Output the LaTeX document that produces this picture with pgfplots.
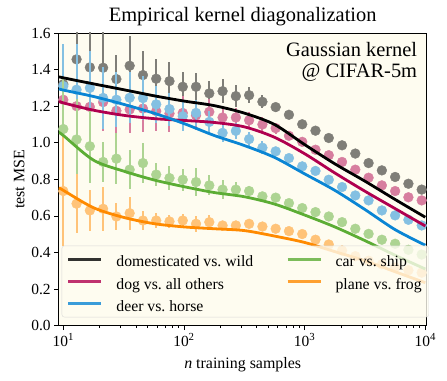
\documentclass[border=0pt]{standalone}
\usepackage{fontspec}
\setmainfont{Liberation Serif}
\usepackage{pgfplots}
\pgfplotsset{compat=1.18}

\definecolor{bgcream}{HTML}{FEFCF0}
\definecolor{cdog}{HTML}{B0004F}
\definecolor{cdeer}{HTML}{0A85D4}
\definecolor{ccar}{HTML}{5CAD35}
\definecolor{cplane}{HTML}{FF8A00}

\pgfplotsset{
  obs/.style={only marks, mark=*, mark size=4.9bp, color=#1!50!bgcream, forget plot,
    error bars/.cd, y dir=both, y explicit, error mark=none,
    error bar style={line width=2bp, color=#1!50!bgcream}},
  theory/.style={color=#1, line width=2.8bp, smooth, forget plot},
}
% keeps every legend row the same height
\newcommand{\lstrut}{\rule[-8.4bp]{0pt}{25bp}}

\begin{document}
\begin{tikzpicture}
\begin{axis}[
  at={(0,0)}, anchor=south west,
  scale only axis, width=368bp, height=292.7bp,
  clip mode=individual,
  xmode=log, xmin=9.16, xmax=10270, ymin=0, ymax=1.6,
  axis background/.style={fill=bgcream},
  axis line style={line width=0.9bp},
  xtick={10,100,1000,10000},
  xticklabels={10\textsuperscript{1},10\textsuperscript{2},10\textsuperscript{3},10\textsuperscript{4}},
  minor xtick={20,30,40,50,60,70,80,90,200,300,400,500,600,700,800,900,2000,3000,4000,5000,6000,7000,8000,9000},
  ytick={0,0.2,0.4,0.6,0.8,1.0,1.2,1.4,1.6},
  yticklabel style={/pgf/number format/.cd, fixed, fixed zerofill, precision=1, assume math mode=true},
  tick label style={font=\fontsize{15.5}{18}\selectfont},
  tick align=outside, xtick pos=left, ytick pos=left,
  major tick length=4.5bp, minor tick length=2.5bp,
  tick style={line width=0.8bp, black},
  xlabel={\textit{n} training samples},
  ylabel={test MSE},
  label style={font=\fontsize{16}{19}\selectfont},
  xlabel style={yshift=-4bp},
  legend columns=2,
  legend cell align=left,
  legend image code/.code={\draw[#1] (0bp,0bp) -- (33bp,0bp);},
  legend style={
    at={(0.0082,0.0287)}, anchor=south west,
    fill=bgcream, fill opacity=0.8, draw opacity=0.8, text opacity=1,
    draw=black!18, rounded corners=2.5bp,
    font=\fontsize{15.8}{18}\selectfont,
    inner xsep=5bp, inner ysep=2.5bp,
    /tikz/every odd column/.append style={column sep=11.7bp},
    /tikz/every even column/.append style={column sep=30.9bp},
  },
]

% measured points: domesticated vs. wild
\addplot[obs=black] coordinates {
  (10,1.32) +- (0,0.2) (12.88,1.456) +- (0,0.25) (16.60,1.412) +- (0,0.3)
  (21.38,1.410) +- (0,0.25) (27.54,1.348) +- (0,0.13) (35.48,1.421) +- (0,0.16)
  (45.71,1.370) +- (0,0.13) (58.88,1.350) +- (0,0.11) (75.86,1.337) +- (0,0.105)
  (97.72,1.306) +- (0,0.08) (125.9,1.306) +- (0,0.077) (162.2,1.270) +- (0,0.07)
  (208.9,1.282) +- (0,0.065) (269.2,1.255) +- (0,0.06) (346.7,1.260) +- (0,0.045)
  (446.7,1.224) +- (0,0.035) (575.4,1.195) +- (0,0.025) (741.3,1.153) +- (0,0.02)
  (955.0,1.101) +- (0,0.012) (1230,1.066) +- (0,0.01) (1585,1.026) +- (0,0)
  (2042,0.986) +- (0,0) (2630,0.941) +- (0,0) (3388,0.889) +- (0,0)
  (4365,0.849) +- (0,0) (5623,0.813) +- (0,0) (7244,0.776) +- (0,0) (9333,0.744) +- (0,0)
};
% dog vs. all others
\addplot[obs=cdog] coordinates {
  (10,1.235) +- (0,0.2) (12.88,1.200) +- (0,0.2) (16.60,1.196) +- (0,0.18)
  (21.38,1.222) +- (0,0.16) (27.54,1.175) +- (0,0.14) (35.48,1.182) +- (0,0.13)
  (45.71,1.187) +- (0,0.13) (58.88,1.173) +- (0,0.11) (75.86,1.160) +- (0,0.1)
  (97.72,1.163) +- (0,0.09) (125.9,1.150) +- (0,0.08) (162.2,1.169) +- (0,0.07)
  (208.9,1.138) +- (0,0.06) (269.2,1.138) +- (0,0.05) (346.7,1.123) +- (0,0.045)
  (446.7,1.100) +- (0,0.04) (575.4,1.080) +- (0,0.03) (741.3,1.038) +- (0,0.02)
  (955.0,1.005) +- (0,0.015) (1230,0.962) +- (0,0) (1585,0.932) +- (0,0)
  (2042,0.895) +- (0,0) (2630,0.853) +- (0,0) (3388,0.809) +- (0,0)
  (4365,0.767) +- (0,0) (5623,0.736) +- (0,0) (7244,0.702) +- (0,0) (9333,0.685) +- (0,0)
};
% deer vs. horse
\addplot[obs=cdeer] coordinates {
  (10,1.31) +- (0,0.23) (12.88,1.29) +- (0,0.25) (16.60,1.30) +- (0,0.2)
  (21.38,1.245) +- (0,0.17) (27.54,1.235) +- (0,0.15) (35.48,1.246) +- (0,0.14)
  (45.71,1.244) +- (0,0.12) (58.88,1.210) +- (0,0.1) (75.86,1.184) +- (0,0.09)
  (97.72,1.145) +- (0,0.08) (125.9,1.163) +- (0,0.07) (162.2,1.114) +- (0,0.06)
  (208.9,1.054) +- (0,0.05) (269.2,1.065) +- (0,0.045) (346.7,1.020) +- (0,0.04)
  (446.7,0.973) +- (0,0.035) (575.4,0.953) +- (0,0.02) (741.3,0.916) +- (0,0.015)
  (955.0,0.871) +- (0,0.01) (1230,0.846) +- (0,0) (1585,0.798) +- (0,0)
  (2042,0.758) +- (0,0) (2630,0.712) +- (0,0) (3388,0.685) +- (0,0)
  (4365,0.630) +- (0,0) (5623,0.603) +- (0,0) (7244,0.579) +- (0,0) (9333,0.548) +- (0,0)
};
% car vs. ship
\addplot[obs=ccar] coordinates {
  (10,1.075) +- (0,0.28) (12.88,1.018) +- (0,0.22) (16.60,0.981) +- (0,0.2)
  (21.38,0.895) +- (0,0.11) (27.54,0.913) +- (0,0.14) (35.48,0.853) +- (0,0.105)
  (45.71,0.889) +- (0,0.11) (58.88,0.826) +- (0,0.065) (75.86,0.807) +- (0,0.065)
  (97.72,0.798) +- (0,0.06) (125.9,0.785) +- (0,0.075) (162.2,0.767) +- (0,0.055)
  (208.9,0.744) +- (0,0.05) (269.2,0.744) +- (0,0.04) (346.7,0.736) +- (0,0.03)
  (446.7,0.707) +- (0,0.02) (575.4,0.700) +- (0,0.015) (741.3,0.670) +- (0,0)
  (955.0,0.643) +- (0,0) (1230,0.621) +- (0,0) (1585,0.597) +- (0,0)
  (2042,0.566) +- (0,0) (2630,0.530) +- (0,0) (3388,0.502) +- (0,0)
  (4365,0.470) +- (0,0) (5623,0.448) +- (0,0) (7244,0.415) +- (0,0) (9333,0.389) +- (0,0)
};
% plane vs. frog
\addplot[obs=cplane] coordinates {
  (10,0.736) +- (0,0.3) (12.88,0.667) +- (0,0.16) (16.60,0.630) +- (0,0.11)
  (21.38,0.639) +- (0,0.12) (27.54,0.597) +- (0,0.075) (35.48,0.615) +- (0,0.09)
  (45.71,0.575) +- (0,0.05) (58.88,0.575) +- (0,0.04) (75.86,0.570) +- (0,0.035)
  (97.72,0.575) +- (0,0.035) (125.9,0.557) +- (0,0.045) (162.2,0.566) +- (0,0.04)
  (208.9,0.548) +- (0,0.025) (269.2,0.548) +- (0,0.02) (346.7,0.557) +- (0,0.02)
  (446.7,0.542) +- (0,0.015) (575.4,0.530) +- (0,0.01) (741.3,0.517) +- (0,0)
  (955.0,0.501) +- (0,0) (1230,0.470) +- (0,0) (1585,0.444) +- (0,0)
  (2042,0.411) +- (0,0) (2630,0.380) +- (0,0) (3388,0.355) +- (0,0)
  (4365,0.335) +- (0,0) (5623,0.318) +- (0,0) (7244,0.303) +- (0,0) (9333,0.290) +- (0,0)
};

% theory curves
\addplot[theory=black] coordinates {
  (9.2,1.361) (10,1.355) (17.78,1.322) (31.62,1.290) (56.23,1.257) (100,1.228)
  (177.8,1.203) (316.2,1.162) (562.3,1.100) (1000,0.990) (1778,0.885)
  (3162,0.790) (5623,0.690) (10000,0.593)
};
\addplot[theory=cdog] coordinates {
  (9.2,1.228) (10,1.218) (17.78,1.178) (31.62,1.150) (56.23,1.132) (100,1.122)
  (177.8,1.111) (316.2,1.087) (562.3,1.030) (1000,0.940) (1778,0.835)
  (3162,0.735) (5623,0.640) (10000,0.545)
};
\addplot[theory=cdeer] coordinates {
  (9.2,1.295) (10,1.288) (17.78,1.253) (31.62,1.210) (56.23,1.162) (100,1.105)
  (177.8,1.040) (316.2,0.985) (562.3,0.920) (1000,0.830) (1778,0.740)
  (3162,0.635) (5623,0.525) (10000,0.440)
};
\addplot[theory=ccar] coordinates {
  (9.2,1.055) (10,1.040) (17.78,0.905) (31.62,0.845) (56.23,0.797) (100,0.760)
  (177.8,0.728) (316.2,0.705) (562.3,0.665) (1000,0.605) (1778,0.540)
  (3162,0.465) (5623,0.385) (10000,0.310)
};
\addplot[theory=cplane] coordinates {
  (9.2,0.755) (10,0.740) (17.78,0.645) (31.62,0.592) (56.23,0.558) (100,0.540)
  (177.8,0.530) (316.2,0.520) (562.3,0.490) (1000,0.455) (1778,0.405)
  (3162,0.355) (5623,0.295) (10000,0.235)
};

\addlegendimage{black, line width=2.8bp}
\addlegendentry{\lstrut domesticated vs.\ wild}
\addlegendimage{ccar, line width=2.8bp}
\addlegendentry{\lstrut car vs.\ ship}
\addlegendimage{cdog, line width=2.8bp}
\addlegendentry{\lstrut dog vs.\ all others}
\addlegendimage{cplane, line width=2.8bp}
\addlegendentry{\lstrut plane vs.\ frog}
\addlegendimage{cdeer, line width=2.8bp}
\addlegendentry{\lstrut deer vs.\ horse}

\node[anchor=base, font=\fontsize{20.5}{24}\selectfont] at (rel axis cs:0.5,1) [yshift=11bp] {Empirical kernel diagonalization};
\node[anchor=north east, align=right, inner sep=0bp, font=\fontsize{20.5}{21}\selectfont]
  at (rel axis cs:1,1) [xshift=-9.4bp, yshift=-9.5bp] {Gaussian kernel\\@ CIFAR-5m};
\end{axis}
\pgfresetboundingbox
\path (-58.7bp,-55.3bp) rectangle (388.3bp,325.7bp);
\end{tikzpicture}
\end{document}
